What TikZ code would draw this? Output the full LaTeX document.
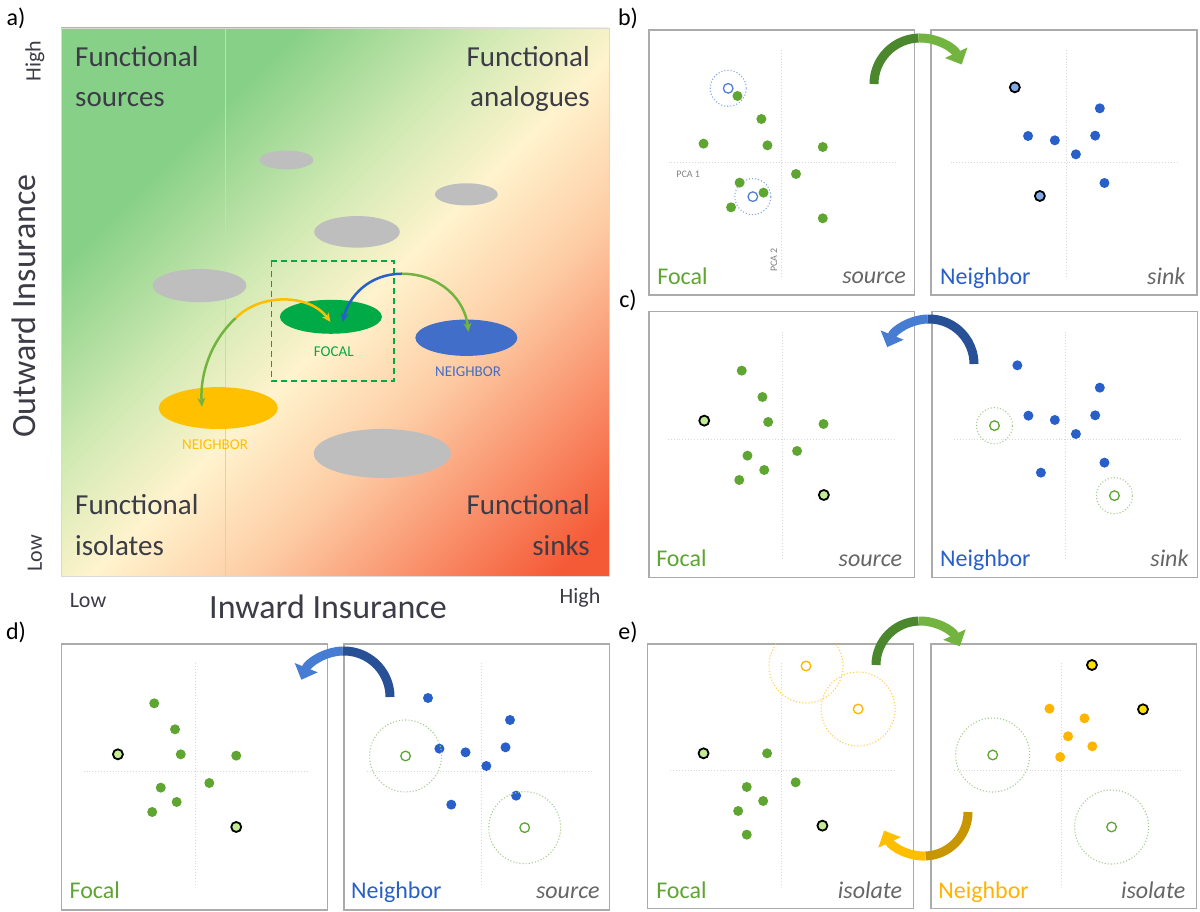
\documentclass[tikz,border=0pt]{standalone}
\usepackage{fontspec}
\setmainfont{Carlito}
\usetikzlibrary{arrows.meta,shapes.geometric}
\definecolor{cg1}{RGB}{135,208,135}
\definecolor{cg2}{RGB}{210,234,180}
\definecolor{cy}{RGB}{255,243,205}
\definecolor{cp}{RGB}{253,205,165}
\definecolor{cr}{RGB}{245,90,55}
\definecolor{gdk}{RGB}{60,60,70}
\definecolor{ggreen}{RGB}{95,165,50}
\definecolor{gblue}{RGB}{40,95,200}
\definecolor{gorange}{RGB}{255,180,0}
\definecolor{lgreen}{RGB}{195,235,150}
\definecolor{lblue}{RGB}{130,170,230}
\definecolor{lyel}{RGB}{255,225,0}
\definecolor{cgray}{RGB}{190,190,190}
\definecolor{agd}{RGB}{75,135,45}
\definecolor{agl}{RGB}{115,180,65}
\definecolor{abd}{RGB}{40,80,150}
\definecolor{abl}{RGB}{70,125,210}
\definecolor{ayd}{RGB}{200,150,0}
\definecolor{ayl}{RGB}{255,190,0}
\definecolor{ellgreen}{RGB}{0,170,70}
\definecolor{ellblue}{RGB}{65,110,200}
\definecolor{ellyel}{RGB}{255,192,0}
\pgfdeclarehorizontalshading{diagsh}{100bp}{color(0bp)=(cg1); color(30bp)=(cg1); color(43bp)=(cg2); color(52bp)=(cy); color(62bp)=(cp); color(82bp)=(cr); color(100bp)=(cr)}
\tikzset{
  fs/.style={font=\fontsize{#1}{#1}\selectfont},
  box/.style={draw=cgray!90!black, line width=1.2pt},
  ax/.style={draw=black!15, dotted, line width=0.9pt},
  gd/.style={fill=ggreen},
  bd/.style={fill=gblue},
  od/.style={fill=gorange},
  gring/.style={fill=lgreen, draw=black, line width=1.8pt},
  bring/.style={fill=lblue, draw=black, line width=1.8pt},
  yring/.style={fill=lyel, draw=black, line width=1.8pt},
  gopen/.style={fill=white, draw=ggreen, line width=1.3pt},
  bopen/.style={fill=white, draw=gblue!80, line width=1.3pt},
  yopen/.style={fill=white, draw=gorange, line width=1.3pt},
  gdc/.style={draw=ggreen!55, dotted, line width=1.1pt},
  bdc/.style={draw=lblue, dotted, line width=1.1pt},
  ydc/.style={draw=gorange!65, dotted, line width=1.1pt},
  quad/.style={fs=29, text=gdk, inner sep=0pt},
  lbl/.style={fs=24, inner sep=0pt},
  slbl/.style={fs=24, inner sep=0pt, text=black!60, font=\fontsize{24}{24}\selectfont\itshape},
  blk/.style={line width=9pt},
  blkh/.style={line width=9pt, -{Triangle[length=13pt,width=24pt]}},
  thinh/.style={line width=2.5pt, -{Stealth[length=9pt,width=8pt]}},
  plab/.style={fs=24, inner sep=0pt}
}
\begin{document}
\begin{tikzpicture}[x=1pt,y=-1pt]
\useasboundingbox (0,0) rectangle (1200,912);
\fill[white] (0,0) rectangle (1200,912);
% ---------- panel a ----------
\node[plab] (la) at (16,18) {a)};
\shade[shading=diagsh, shading angle=-45] (61,28) rectangle (609,576);
\draw[black!15, line width=0.8pt] (61,28) rectangle (609,576);
\begin{scope}[x=0.408pt,y=-0.395pt]
\draw[black!18, line width=1pt] (553,70) -- (553,1457);
\fill[cgray] (702,405) ellipse [x radius=66, y radius=24];
\fill[cgray] (1143,492) ellipse [x radius=77, y radius=28];
\fill[cgray] (875,587) ellipse [x radius=105, y radius=40];
\fill[cgray] (489,723) ellipse [x radius=115, y radius=42];
\fill[cgray] (937,1148) ellipse [x radius=168, y radius=62];
\node[ellipse, fill=ellgreen, minimum width=250*0.408pt, minimum height=86*0.395pt, inner sep=0pt] (focal) at (811,802) {};
\node[ellipse, fill=ellblue, minimum width=250*0.408pt, minimum height=92*0.395pt, inner sep=0pt] (nb) at (1143,855) {};
\node[ellipse, fill=ellyel, minimum width=292*0.408pt, minimum height=106*0.395pt, inner sep=0pt] (ny) at (535,1033) {};
\node[fs=15, text=ellgreen] (tf) at (818,890) {FOCAL};
\node[fs=15, text=ellblue] (tb) at (1147,940) {NEIGHBOR};
\node[fs=15, text=ellyel] (ty) at (527,1125) {NEIGHBOR};
\draw[ellgreen, line width=1.6pt, dash pattern=on 6pt off 4pt] (665,660) rectangle (965,965);
\coordinate (ja) at (578,805);
\coordinate (jb) at (985,693);
\draw[thinh, agl] (ja) .. controls (515,865) and (490,950) .. (495,1030);
\draw[thinh, ayl] (ja) .. controls (640,740) and (760,745) .. (810,815);
\draw[thinh, gblue] (jb) .. controls (905,693) and (855,750) .. (840,815);
\draw[thinh, agl] (jb) .. controls (1080,693) and (1140,760) .. (1148,840);
\end{scope}
\node[quad, anchor=base west] (q1a) at (75,67) {Functional};
\node[quad, anchor=base west] (q1b) at (75,107) {sources};
\node[quad, anchor=base east] (q2a) at (590,67) {Functional};
\node[quad, anchor=base east] (q2b) at (590,107) {analogues};
\node[quad, anchor=base west] (q3a) at (75,514) {Functional};
\node[quad, anchor=base west] (q3b) at (75,555) {isolates};
\node[quad, anchor=base east] (q4a) at (590,514) {Functional};
\node[quad, anchor=base east] (q4b) at (590,555) {sinks};
\node[fs=34, text=gdk, rotate=90] (oi) at (24,306) {Outward Insurance};
\node[fs=34, text=gdk] (ii) at (328,607) {Inward Insurance};
\node[fs=22, text=gdk, rotate=90] (hi) at (35,61) {High};
\node[fs=22, text=gdk, rotate=90] (lo) at (35,553) {Low};
\node[fs=22, text=gdk] (lo2) at (88,601) {Low};
\node[fs=22, text=gdk] (hi2) at (580,598) {High};
% ---------- panel b ----------
\node[plab] (lb) at (628,18) {b)};
\begin{scope}[shift={(640,0)},x=0.357pt,y=-0.3333pt]
\draw[box] (25,90) rectangle (770,885);
\draw[box] (815,90) rectangle (1560,885);
\draw[ax] (397,150) -- (397,830); \draw[ax] (80,488) -- (720,488);
\draw[ax] (1195,150) -- (1195,830); \draw[ax] (870,488) -- (1510,488);
\draw[bdc] (247,265) circle (18pt); \draw[bdc] (316,590) circle (18pt);
\foreach \p in {(273,288),(340,357),(178,431),(357,436),(512,441),(437,522),(279,548),(346,578),(255,622),(512,655)} \fill[gd] \p circle (5pt);
\draw[bopen] (247,265) circle (4.8pt); \draw[bopen] (316,590) circle (4.8pt);
\node[fs=10, text=black!50] (pca1) at (135,522) {PCA 1};
\node[fs=10, text=black!50, rotate=90] (pca2) at (375,780) {PCA 2};
\node[lbl, text=ggreen, anchor=base west] (fb) at (48,855) {Focal};
\node[slbl, anchor=base east] (sb) at (745,850) {source};
\foreach \p in {(1288,325),(1087,408),(1162,421),(1275,407),(1221,463),(1301,549)} \fill[bd] \p circle (5pt);
\draw[bring] (1050,262) circle (5pt); \draw[bring] (1120,588) circle (5pt);
\node[lbl, text=gblue, anchor=base west] (nbb) at (840,855) {Neighbor};
\node[slbl, anchor=base east] (skb) at (1528,855) {sink};
\end{scope}
\draw[blk, agd] (874,84) arc[start angle=180, end angle=268, radius=46];
\draw[blkh, agl] (918.4,38) arc[start angle=268, end angle=335, radius=46];
% ---------- panel c ----------
\node[plab] (lc) at (628,300) {c)};
\begin{scope}[shift={(640,300)},x=0.357pt,y=-0.3333pt]
\draw[box] (25,35) rectangle (768,832);
\draw[box] (818,35) rectangle (1562,832);
\draw[ax] (400,95) -- (400,780); \draw[ax] (78,418) -- (718,418);
\draw[ax] (1192,95) -- (1192,775); \draw[ax] (880,418) -- (1520,418);
\foreach \p in {(285,212),(343,291),(359,366),(514,372),(440,453),(301,467),(348,510),(278,540)} \fill[gd] \p circle (5pt);
\draw[gring] (180,362) circle (5pt); \draw[gring] (515,585) circle (5pt);
\node[lbl, text=ggreen, anchor=base west] (fc) at (45,800) {Focal};
\node[slbl, anchor=base east] (sc) at (735,800) {source};
\foreach \p in {(1057,196),(1288,263),(1088,347),(1162,360),(1275,346),(1221,402),(1301,488),(1123,518)} \fill[bd] \p circle (5pt);
\draw[gdc] (993,377) circle (18pt); \draw[gdc] (1329,587) circle (18pt);
\draw[gopen] (993,377) circle (4.8pt); \draw[gopen] (1329,587) circle (4.8pt);
\node[lbl, text=gblue, anchor=base west] (nc) at (840,800) {Neighbor};
\node[slbl, anchor=base east] (skc) at (1537,800) {sink};
\end{scope}
\draw[blk, abd] (974,364) arc[start angle=0, end angle=-92, radius=45];
\draw[blkh, abl] (927.4,319) arc[start angle=-92, end angle=-158, radius=45];
% ---------- panel d ----------
\node[plab] (ld) at (16,632) {d)};
\begin{scope}[shift={(0,620)},x=0.408pt,y=-0.3333pt]
\draw[box] (150,72) rectangle (803,870);
\draw[box] (843,72) rectangle (1493,870);
\draw[ax] (478,130) -- (478,800); \draw[ax] (205,455) -- (755,455);
\draw[ax] (1180,130) -- (1180,800); \draw[ax] (900,455) -- (1450,455);
\foreach \p in {(378,250),(429,328),(443,403),(579,407),(513,489),(394,503),(433,546),(373,576)} \fill[gd] \p circle (5pt);
\draw[gring] (289,403) circle (5pt); \draw[gring] (579,621) circle (5pt);
\node[lbl, text=ggreen, anchor=base west] (fd) at (170,835) {Focal};
\foreach \p in {(1049,234),(1250,300),(1077,386),(1141,397),(1239,382),(1192,438),(1265,527),(1106,554)} \fill[bd] \p circle (5pt);
\draw[gdc] (994,408) circle (36pt); \draw[gdc] (1286,623) circle (36pt);
\draw[gopen] (994,408) circle (4.8pt); \draw[gopen] (1286,623) circle (4.8pt);
\node[lbl, text=gblue, anchor=base west] (nd) at (860,835) {Neighbor};
\node[slbl, anchor=base east] (sd) at (1470,835) {source};
\end{scope}
\draw[blk, abd] (390,697) arc[start angle=0, end angle=-92, radius=46];
\draw[blkh, abl] (342.4,651) arc[start angle=-92, end angle=-158, radius=46];
% ---------- panel e ----------
\node[plab] (le) at (628,632) {e)};
\begin{scope}[shift={(640,620)},x=0.357pt,y=-0.3333pt]
\draw[box] (22,72) rectangle (767,865);
\draw[box] (815,72) rectangle (1558,865);
\draw[ax] (397,130) -- (397,800); \draw[ax] (85,452) -- (715,452);
\draw[ax] (1180,130) -- (1180,800); \draw[ax] (880,452) -- (1515,452);
\begin{scope}
\clip (22,72) rectangle (767,865);
\draw[ydc] (465,138) circle (37pt); \draw[ydc] (611,267) circle (37pt);
\end{scope}
\draw[yopen] (465,138) circle (4.8pt); \draw[yopen] (611,267) circle (4.8pt);
\foreach \p in {(356,400),(436,487),(299,501),(345,543),(275,573),(299,644)} \fill[gd] \p circle (5pt);
\draw[gring] (178,400) circle (5pt); \draw[gring] (511,617) circle (5pt);
\node[lbl, text=ggreen, anchor=base west] (fe) at (45,835) {Focal};
\node[slbl, anchor=base east] (se) at (735,835) {isolate};
\draw[gdc] (988,405) circle (37pt); \draw[gdc] (1321,621) circle (37pt);
\draw[gopen] (988,405) circle (4.8pt); \draw[gopen] (1321,621) circle (4.8pt);
\foreach \p in {(1147,266),(1245,295),(1199,349),(1267,379),(1177,411)} \fill[od] \p circle (5pt);
\draw[yring] (1266,135) circle (5pt); \draw[yring] (1409,268) circle (5pt);
\node[lbl, text=gorange, anchor=base west] (ne) at (835,835) {Neighbor};
\node[slbl, anchor=base east] (se2) at (1528,835) {isolate};
\end{scope}
\draw[blk, agd] (876,665) arc[start angle=180, end angle=268, radius=44];
\draw[blkh, agl] (918.5,621) arc[start angle=268, end angle=335, radius=44];
\draw[blk, ayd] (968,812) arc[start angle=0, end angle=88, radius=44];
\draw[blkh, ayl] (925.5,856) arc[start angle=88, end angle=155, radius=44];
\end{tikzpicture}
\end{document}
